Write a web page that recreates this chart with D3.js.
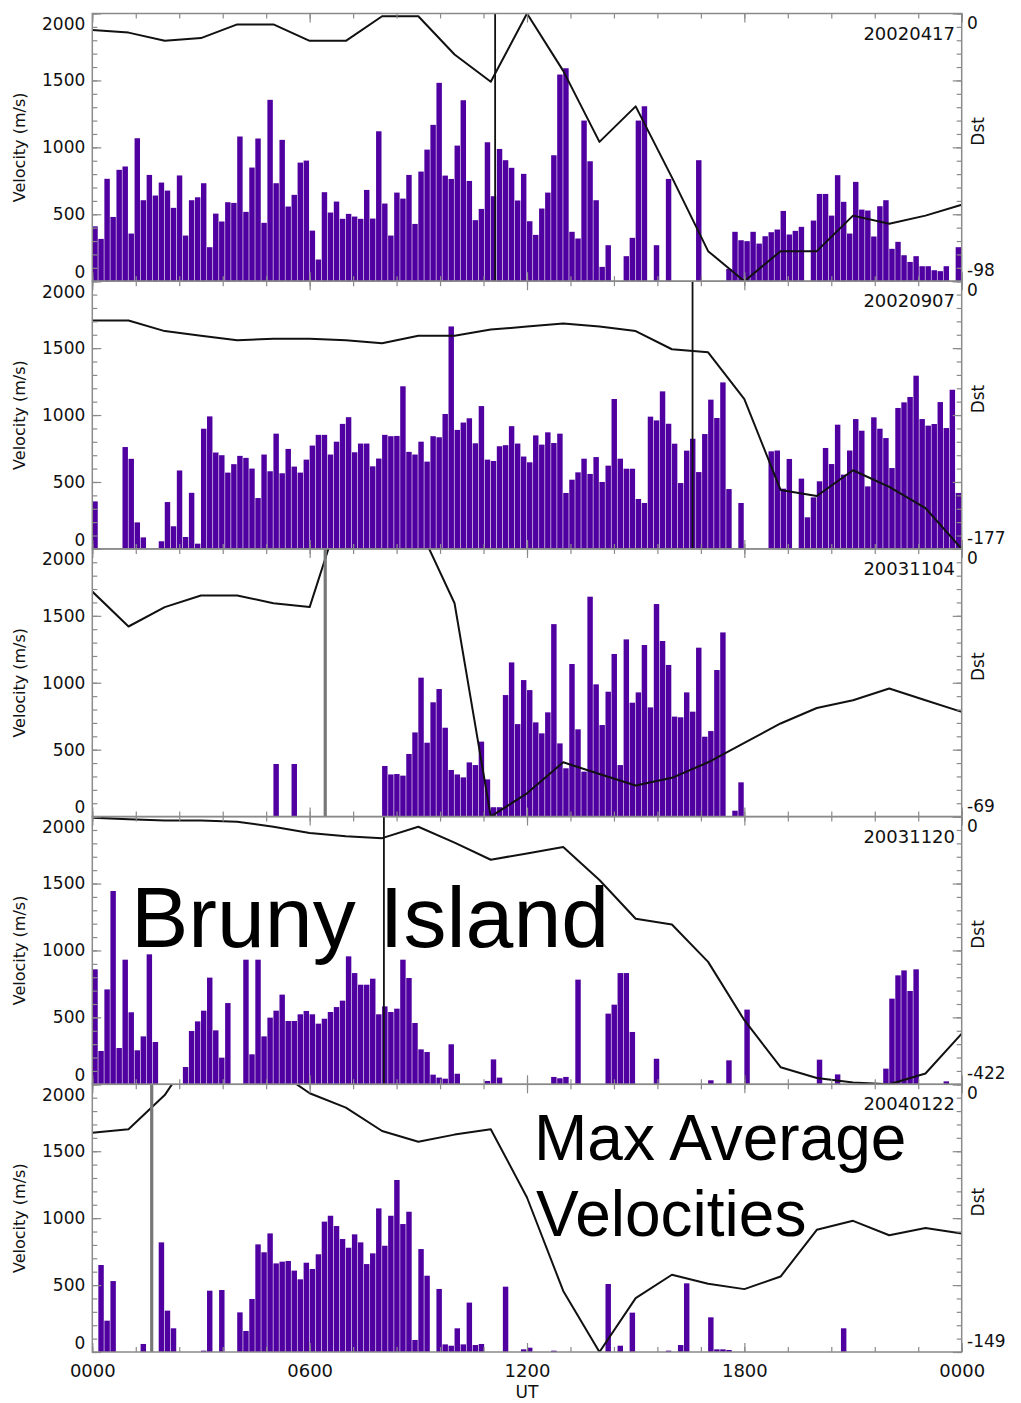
<!DOCTYPE html>
<html>
<head>
<meta charset="utf-8">
<script src="https://cdn.jsdelivr.net/npm/d3@7"></script>
<style>
  body { margin: 0; background: #fff; }
  svg { display: block; }
</style>
</head>
<body>
<svg id="chart" width="1021" height="1403"></svg>
<script>
// Storm days shown, one panel each (top to bottom)
const dates = ["20020417", "20020907", "20031104", "20031120", "20040122"];

// Lower end of each panel's Dst axis (nT); the upper end is 0
const dstMin = [-98, -177, -69, -422, -149];

// Hourly Dst (nT), 0000 UT to 0000 UT next day (25 values)
const dst20020417 = [-6, -7, -10, -9, -4, -4, -10, -10, -1, -1, -15, -25, 0, -21, -47, -34, -60, -87, -98, -87, -87, -74, -77, -74, -70];
const dst20020907 = [-26, -26, -33, -36, -39, -38, -38, -39, -41, -36, -36, -32, -30, -28, -30, -33, -45, -47, -78, -138, -142, -125, -136, -150, -177];
const dst20031104 = [-11, -20, -15, -12, -12, -14, -15, 14, 18, 6, -14, -69, -63, -55, -58, -61, -59, -55, -50, -45, -41, -39, -36, -39, -42];
const dst20031120 = [-2, -4, -6, -6, -8, -16, -26, -31, -34, -16, -41, -68, -58, -48, -100, -161, -170, -229, -321, -395, -412, -419, -422, -405, -342];
const dst20040122 = [-27, -25, -6, 24, 20, 9, -5, -13, -26, -32, -28, -25, -63, -115, -149, -119, -106, -111, -114, -107, -81, -76, -84, -80, -83];

// Maximum average velocity (m/s) in 10-minute bins, 144 per day; 0 = no data
const vel20020417 = [
  410, 316, 765, 480, 832, 857, 356, 1068, 605, 794, 640, 737, 677, 548, 790, 341, 605, 627, 732, 254, 505, 446, 590, 585,
  1081, 518, 849, 1066, 436, 1355, 732, 1056, 558, 645, 886, 901, 378, 162, 665, 513, 595, 466, 503, 483, 466, 682, 468, 1120,
  580, 341, 662, 617, 794, 428, 819, 983, 1168, 1482, 789, 764, 1013, 1352, 749, 456, 540, 1038, 635, 988, 904, 847, 603, 802,
  448, 346, 543, 662, 941, 1544, 1591, 369, 319, 1200, 896, 605, 107, 269, 0, 0, 187, 324, 1200, 1307, 0, 269, 0, 764,
  0, 0, 0, 0, 904, 0, 0, 0, 0, 92, 369, 306, 299, 369, 281, 336, 366, 386, 525, 349, 376, 406, 0, 453,
  652, 652, 490, 792, 593, 356, 742, 535, 528, 334, 560, 605, 242, 294, 194, 144, 187, 112, 112, 82, 75, 112, 0, 254
];
const vel20020907 = [
  355, 0, 0, 0, 0, 761, 673, 198, 86, 0, 0, 57, 350, 169, 586, 89, 419, 39, 898, 990, 720, 700, 570, 633,
  695, 680, 600, 380, 705, 580, 861, 565, 747, 615, 570, 667, 772, 852, 852, 705, 801, 934, 984, 722, 787, 787, 617, 675,
  852, 842, 844, 1215, 725, 705, 801, 652, 842, 834, 1008, 1662, 889, 944, 976, 789, 1067, 667, 657, 767, 775, 917, 787, 690,
  647, 848, 779, 871, 791, 861, 418, 517, 572, 674, 560, 686, 500, 622, 1120, 674, 599, 599, 373, 343, 988, 960, 1177, 935,
  786, 492, 734, 823, 574, 858, 1115, 978, 1244, 447, 0, 343, 0, 0, 0, 0, 729, 735, 450, 672, 0, 525, 236, 385,
  505, 754, 634, 928, 555, 735, 970, 883, 467, 983, 898, 828, 604, 1053, 1095, 1135, 1294, 970, 921, 933, 1097, 903, 1189, 418
];
const vel20031104 = [
  0, 0, 0, 0, 0, 0, 0, 0, 0, 0, 0, 0, 0, 0, 0, 0, 0, 0, 0, 0, 0, 0, 0, 0,
  0, 0, 0, 0, 0, 0, 393, 0, 0, 393, 0, 0, 0, 0, 0, 0, 0, 0, 0, 0, 0, 0, 0, 0,
  378, 315, 318, 306, 468, 629, 1038, 552, 854, 953, 664, 348, 315, 293, 405, 385, 560, 278, 70, 70, 908, 1152, 691, 1020,
  945, 704, 622, 779, 1438, 547, 361, 1140, 652, 336, 1643, 988, 684, 933, 1215, 385, 1324, 851, 928, 1282, 816, 1588, 1312, 1133,
  747, 742, 928, 784, 1262, 597, 639, 1095, 1376, 0, 44, 256, 0, 0, 0, 0, 0, 0, 0, 0, 0, 0, 0, 0,
  0, 0, 0, 0, 0, 0, 0, 0, 0, 0, 0, 0, 0, 0, 0, 0, 0, 0, 0, 0, 0, 0, 0, 0
];
const vel20031120 = [
  859, 249, 709, 1444, 271, 931, 538, 254, 358, 971, 316, 0, 0, 0, 0, 129, 398, 470, 550, 797, 403, 199, 607, 0,
  0, 931, 224, 931, 358, 498, 550, 670, 473, 473, 523, 548, 523, 453, 490, 540, 577, 625, 956, 831, 744, 744, 789, 523,
  582, 540, 565, 931, 794, 458, 261, 241, 72, 50, 42, 299, 79, 0, 0, 0, 0, 25, 186, 50, 0, 0, 0, 0,
  0, 0, 0, 0, 55, 45, 55, 0, 782, 0, 0, 0, 0, 528, 595, 831, 831, 391, 0, 0, 0, 191, 0, 0,
  0, 0, 0, 0, 0, 0, 30, 0, 0, 179, 0, 0, 558, 0, 0, 0, 0, 0, 0, 0, 0, 0, 0, 0,
  184, 0, 0, 74, 0, 0, 0, 0, 0, 0, 0, 117, 640, 814, 851, 697, 859, 0, 0, 0, 0, 22, 0, 0
];
const vel20040122 = [
  0, 650, 234, 530, 0, 0, 0, 0, 60, 0, 0, 819, 309, 177, 0, 0, 0, 0, 10, 458, 0, 463, 0, 0,
  296, 157, 396, 804, 745, 886, 662, 675, 680, 608, 543, 667, 620, 730, 974, 1018, 941, 844, 779, 879, 819, 657, 737, 1073,
  794, 1018, 1285, 956, 1048, 90, 769, 570, 0, 471, 57, 47, 177, 57, 369, 52, 60, 0, 0, 0, 488, 0, 0, 20,
  32, 0, 0, 0, 10, 0, 0, 0, 0, 0, 0, 0, 0, 508, 0, 47, 0, 294, 0, 0, 0, 0, 0, 10,
  0, 52, 513, 0, 0, 0, 259, 20, 20, 15, 0, 0, 0, 0, 0, 0, 0, 0, 0, 0, 0, 0, 0, 0,
  0, 0, 0, 0, 177, 0, 0, 0, 0, 0, 0, 0, 0, 0, 0, 0, 0, 0, 0, 0, 0, 0, 0, 0
];

// Event time marked on each day (UT hours) and its kind
const markerUT = [11.12, 16.57, 6.43, 8.05, 1.64];
const markerKind = ["onset", "onset", "ssc", "onset", "ssc"];

// Axis ticks
const velTicks = [0, 500, 1000, 1500, 2000];
const velMinorTicks = d3.range(0, 2001, 100);
const utTicks = [0, 6, 12, 18, 24];
const utTickLabels = ["0000", "0600", "1200", "1800", "0000"];
const utMinorTicks = d3.range(0, 24.001, 1.2);

const velocities = [vel20020417, vel20020907, vel20031104, vel20031120, vel20040122];
const dstSeries = [dst20020417, dst20020907, dst20031104, dst20031120, dst20040122];

// ---- layout ----
const plotLeft = 92.3, plotRight = 961.7;
const plotTop = 13.5, panelH = 267.7;
const barColor = "#5000a0";
const frameColor = "#8a8a8a";
const labelFont = "DejaVu Sans";

const svg = d3.select("#chart");
const x = d3.scaleLinear().domain([0, 24]).range([plotLeft, plotRight]);
const binH = 1 / 6;

dates.forEach((date, k) => {
  const top = plotTop + k * panelH;
  const bottom = top + panelH;
  const yV = d3.scaleLinear().domain([0, 2000]).range([bottom, top]);
  const yD = d3.scaleLinear().domain([dstMin[k], 0]).range([bottom, top]);

  const g = svg.append("g").attr("class", "panel");

  const clipId = "clip" + k;
  svg.append("clipPath").attr("id", clipId)
    .append("rect").attr("x", plotLeft).attr("y", top)
    .attr("width", plotRight - plotLeft).attr("height", panelH);

  // velocity bars
  const bins = velocities[k].map((v, i) => ({ t: i * binH, v }));
  g.append("g").selectAll("rect")
    .data(bins.filter(d => d.v > 0))
    .join("rect")
    .attr("x", d => x(d.t))
    .attr("width", d => x(d.t + binH) - x(d.t) - 0.6)
    .attr("y", d => yV(d.v))
    .attr("height", d => yV(0) - yV(d.v))
    .attr("fill", barColor);

  // Dst trace
  const line = d3.line().x((d, i) => x(i)).y(d => yD(d));
  g.append("path")
    .attr("clip-path", `url(#${clipId})`)
    .attr("d", line(dstSeries[k]))
    .attr("fill", "none")
    .attr("stroke", "#111")
    .attr("stroke-width", 2)
    .attr("stroke-linejoin", "round");

  // event marker
  const ssc = markerKind[k] === "ssc";
  g.append("line")
    .attr("x1", x(markerUT[k])).attr("x2", x(markerUT[k]))
    .attr("y1", top).attr("y2", bottom)
    .attr("stroke", ssc ? "#777" : "#111")
    .attr("stroke-width", ssc ? 3.2 : 1.8);

  // frame
  g.append("rect")
    .attr("x", plotLeft).attr("y", top)
    .attr("width", plotRight - plotLeft).attr("height", panelH)
    .attr("fill", "none").attr("stroke", frameColor).attr("stroke-width", 1.5);

  // left axis: major ticks + labels, minor ticks
  const left = g.append("g").attr("transform", `translate(${plotLeft},0)`);
  left.call(d3.axisLeft(yV).tickValues(velTicks).tickSize(-9).tickSizeOuter(0).tickPadding(7)
    .tickFormat(d3.format("d")));
  // end labels sit inside the panel's height so stacked panels don't collide
  left.selectAll(".tick text")
    .attr("dy", d => d === 2000 ? "0.94em" : d === 0 ? "-0.22em" : "0.32em");
  left.append("g").call(d3.axisLeft(yV).tickValues(velMinorTicks).tickSize(-5).tickSizeOuter(0).tickFormat(""));

  // right axis (Dst): ticks only, end labels drawn separately
  const right = g.append("g").attr("transform", `translate(${plotRight},0)`);
  right.call(d3.axisRight(yV).tickValues(velTicks).tickSize(-9).tickSizeOuter(0).tickFormat(""));
  right.append("g").call(d3.axisRight(yV).tickValues(velMinorTicks).tickSize(-5).tickSizeOuter(0).tickFormat(""));

  // top and bottom time ticks
  const last = k === dates.length - 1;
  const bot = g.append("g").attr("transform", `translate(0,${bottom})`);
  bot.call(d3.axisBottom(x).tickValues(utTicks).tickSize(-9).tickSizeOuter(0).tickPadding(12)
    .tickFormat((d, i) => last ? utTickLabels[i] : ""));
  bot.append("g").call(d3.axisBottom(x).tickValues(utMinorTicks).tickSize(-5).tickSizeOuter(0).tickFormat(""));
  const topAx = g.append("g").attr("transform", `translate(0,${top})`);
  topAx.call(d3.axisTop(x).tickValues(utTicks).tickSize(-9).tickSizeOuter(0).tickFormat(""));
  topAx.append("g").call(d3.axisTop(x).tickValues(utMinorTicks).tickSize(-5).tickSizeOuter(0).tickFormat(""));

  g.selectAll(".domain").remove();
  g.selectAll(".tick line").attr("stroke", frameColor).attr("stroke-width", 1.2);
  g.selectAll(".tick text")
    .attr("font-family", labelFont).attr("font-size", 17).attr("fill", "#111");
  bot.selectAll(".tick text").attr("font-size", 18);

  // Dst end labels
  g.append("text").attr("x", 967).attr("y", top + 15)
    .attr("font-family", labelFont).attr("font-size", 17).attr("fill", "#111")
    .text("0");
  g.append("text").attr("x", 967).attr("y", bottom - 5)
    .attr("font-family", labelFont).attr("font-size", 17).attr("fill", "#111")
    .text(String(dstMin[k]));

  // axis titles
  g.append("text")
    .attr("transform", `translate(24.5,${top + panelH / 2}) rotate(-90)`)
    .attr("text-anchor", "middle")
    .attr("font-family", labelFont).attr("font-size", 16).attr("fill", "#111")
    .text("Velocity (m/s)");
  g.append("text")
    .attr("transform", `translate(984,${top + panelH / 2 - 16}) rotate(-90)`)
    .attr("text-anchor", "middle")
    .attr("font-family", labelFont).attr("font-size", 17).attr("fill", "#111")
    .text("Dst");

  // date tag
  g.append("text").attr("x", 955).attr("y", top + 26)
    .attr("text-anchor", "end")
    .attr("font-family", labelFont).attr("font-size", 18).attr("fill", "#111")
    .text(date);
});

// time axis title
svg.append("text").attr("x", x(12)).attr("y", 1398)
  .attr("text-anchor", "middle")
  .attr("font-family", labelFont).attr("font-size", 17).attr("fill", "#111")
  .text("UT");

// annotations
svg.append("text").attr("x", 131).attr("y", 947)
  .attr("font-family", "Liberation Sans").attr("font-size", 86).attr("fill", "#000")
  .text("Bruny Island");
svg.append("text").attr("x", 534).attr("y", 1160)
  .attr("font-family", "Liberation Sans").attr("font-size", 64).attr("fill", "#000")
  .text("Max Average");
svg.append("text").attr("x", 536).attr("y", 1236)
  .attr("font-family", "Liberation Sans").attr("font-size", 64).attr("fill", "#000")
  .text("Velocities");
</script>
</body>
</html>
